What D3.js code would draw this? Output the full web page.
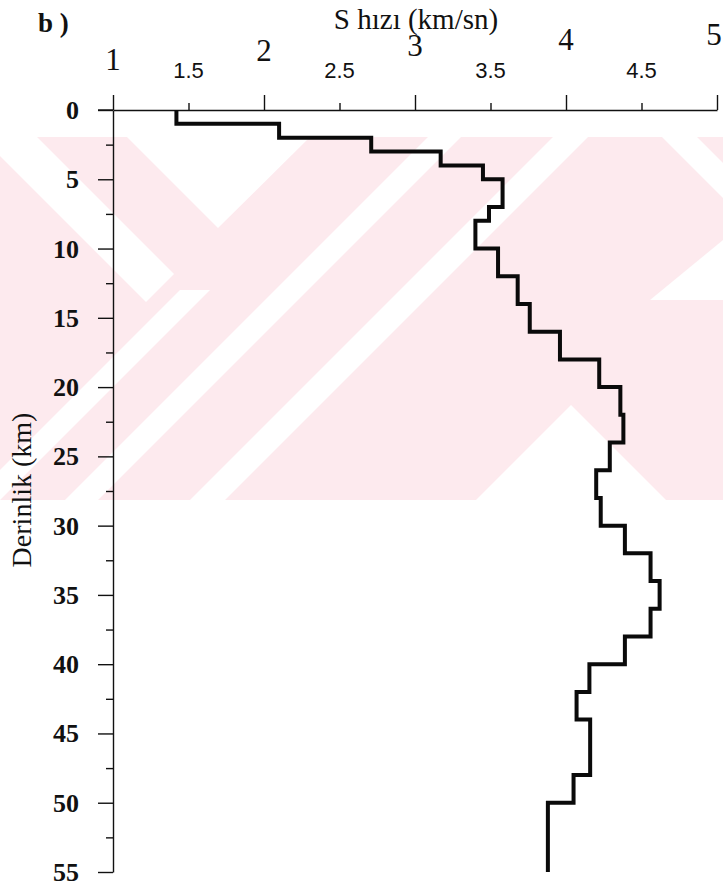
<!DOCTYPE html>
<html><head><meta charset="utf-8">
<script src="https://cdn.jsdelivr.net/npm/d3@7"></script>
<style>body{margin:0;background:#fff}svg{display:block}</style>
</head><body>
<svg id="c" width="723" height="888"></svg>
<script>
// ---- data ----
const layerTops = [0,1,2,3,4,5,7,8,10,12,14,16,18,20,22,24,26,28,30,32,34,36,38,40,42,44,48,50];
const maxDepth = 55;
const sVelocity = [1.42,2.10,2.71,3.17,3.45,3.58,3.49,3.40,3.55,3.68,3.76,3.96,4.22,4.36,4.38,4.29,4.20,4.23,4.39,4.56,4.62,4.56,4.39,4.155,4.07,4.16,4.05,3.88];
const xMajorTicks = [1,2,3,4,5];
const xMinorTicks = [1.5,2.5,3.5,4.5];
const yMajorTicks = [0,5,10,15,20,25,30,35,40,45,50,55];
const yMinorTicks = [2.5,7.5,12.5,17.5,22.5,27.5,32.5,37.5,42.5,47.5,52.5];
const titleText = "S hızı (km/sn)";
const yTitleText = "Derinlik (km)";
const panelLabel = "b )";

const svg = d3.select("#c");
const x = d3.scaleLinear().domain([1,5]).range([113,717]);
const y = d3.scaleLinear().domain([0,55]).range([110,872]);
const serif = "'Liberation Serif','Times New Roman',serif";
const ink = "#111";

// ---- watermark (background decoration) ----
svg.append("clipPath").attr("id","wmclip").append("rect").attr("x",0).attr("y",137).attr("width",723).attr("height",363);
const wg = svg.append("g").attr("clip-path","url(#wmclip)");
wg.append("rect").attr("x",0).attr("y",137).attr("width",723).attr("height",363).attr("fill","#fdeaee");
const whiteShapes = [
  [[127,137],[310,137],[218,228]],
  [[37,137],[174,274],[146,302],[-20,136]],
  [[571,405],[476,500],[666,500]],
  [[428,137],[461,137],[98,500],[65,500]],
  [[553,137],[588,137],[225,500],[190,500]],
  [[180,290],[210,290],[-30,530],[-60,530]],
  [[662,137],[697,137],[760,200],[760,235]],
  [[723,240],[723,300],[650,300]]
];
wg.selectAll("polygon").data(whiteShapes).join("polygon")
  .attr("points",d=>d.map(p=>p.join(",")).join(" ")).attr("fill","#fff");

// ---- axes ----
const xMaj = svg.append("g").attr("transform",`translate(0,${y(0)})`)
  .call(d3.axisTop(x).tickValues(xMajorTicks).tickSize(15).tickSizeOuter(0).tickFormat(""));
const xMin = svg.append("g").attr("transform",`translate(0,${y(0)})`)
  .call(d3.axisTop(x).tickValues(xMinorTicks).tickSize(7).tickSizeOuter(0).tickFormat(""));
xMin.select(".domain").remove();
const yMaj = svg.append("g").attr("transform",`translate(${x(1)},0)`)
  .call(d3.axisLeft(y).tickValues(yMajorTicks).tickSize(15).tickSizeOuter(0).tickFormat(""));
const yMin = svg.append("g").attr("transform",`translate(${x(1)},0)`)
  .call(d3.axisLeft(y).tickValues(yMinorTicks).tickSize(7).tickSizeOuter(0).tickFormat(""));
yMin.select(".domain").remove();
svg.selectAll(".domain, .tick line").attr("stroke",ink).attr("stroke-width",1.4);
svg.append("line").attr("x1",x(1)-15).attr("x2",x(1)).attr("y1",y(0)).attr("y2",y(0)).attr("stroke",ink).attr("stroke-width",1.4);

// x tick labels (integer labels sit on a slightly rising baseline as in the scan)
const intBase = d3.scaleLinear().domain([1,2,3,4,5]).range([70,61,56,50,45]);
svg.append("g").selectAll("text").data(xMajorTicks).join("text")
  .attr("x",d=>Math.min(x(d), 714)).attr("y",d=>intBase(d))
  .attr("text-anchor","middle").attr("font-family",serif)
  .attr("font-size",31).attr("fill",ink).text(d=>d);
svg.append("g").selectAll("text").data(xMinorTicks).join("text")
  .attr("x",d=>x(d)).attr("y",78)
  .attr("text-anchor","middle").attr("font-family","'Liberation Sans',Arial,sans-serif")
  .attr("font-size",22).attr("fill",ink).text(d=>d);
// y tick labels
svg.append("g").selectAll("text").data(yMajorTicks).join("text")
  .attr("x",79).attr("y",d=>y(d)+9)
  .attr("text-anchor","end").attr("font-family",serif)
  .attr("font-weight","bold").attr("font-size",26).attr("fill",ink).text(d=>d);

// titles
svg.append("text").attr("x",416).attr("y",29).attr("text-anchor","middle")
  .attr("font-family",serif).attr("font-size",29).attr("fill",ink).text(titleText);
svg.append("text").attr("transform","translate(31,490) rotate(-90)").attr("text-anchor","middle")
  .attr("font-family",serif).attr("font-size",28).attr("fill",ink).text(yTitleText);
svg.append("text").attr("x",38).attr("y",32)
  .attr("font-family",serif).attr("font-weight","bold").attr("font-size",27).attr("fill",ink).text(panelLabel);

// ---- velocity profile ----
const pts = layerTops.flatMap((t,i)=>[[sVelocity[i],t],[sVelocity[i], i<layerTops.length-1?layerTops[i+1]:maxDepth]]);
svg.append("path").datum(pts)
  .attr("d",d3.line().x(d=>x(d[0])).y(d=>y(d[1])))
  .attr("fill","none").attr("stroke","#0a0a0a").attr("stroke-width",4).attr("stroke-linejoin","miter");
</script>
</body></html>
